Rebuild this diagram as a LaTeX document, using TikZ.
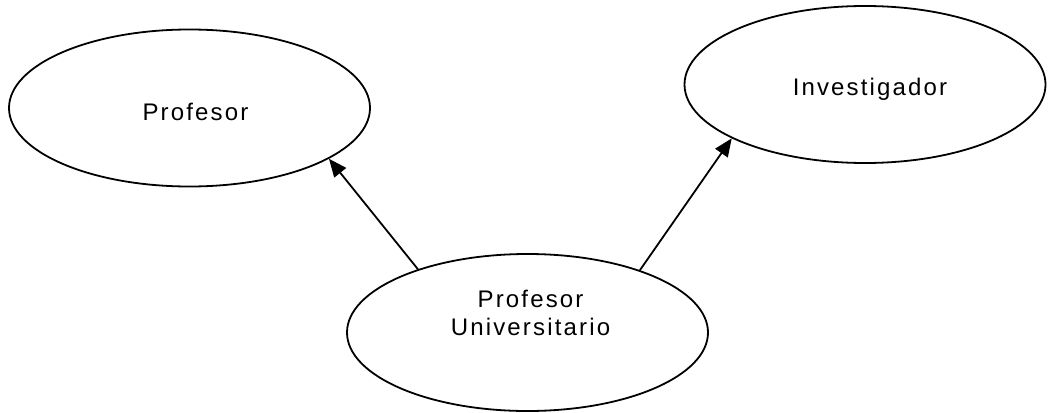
\documentclass[tikz,border=0pt]{standalone}
\usepackage{fontspec}
\setmainfont[LetterSpace=9]{Liberation Sans}
\usetikzlibrary{shapes.geometric,arrows.meta}
\begin{document}
\begin{tikzpicture}[x=1pt,y=-1pt,
  concept/.style={draw=black, line width=1.8pt, ellipse, inner sep=0pt,
    minimum width=361pt, minimum height=157pt},
  caption/.style={anchor=base, align=center, inner sep=0pt,
    font=\fontsize{24}{28}\selectfont},
  isa/.style={-{Triangle[length=18pt,width=15pt]}, line width=1.8pt}]
  \useasboundingbox (0,0) rectangle (1048,412);

  \node[concept, label={[caption, xshift=6pt, yshift=-4pt]center:Profesor}]
    (prof) at (189.5,108) {};
  \node[concept, label={[caption, xshift=5pt, yshift=-4.5pt]center:Investigador}]
    (inv) at (865,84.5) {};
  \node[concept, label={[caption, xshift=3pt, yshift=19.5pt]center:Profesor\\Universitario}]
    (univ) at (527.5,332.5) {};

  \draw[isa] (univ.150.5) -- (prof.-20.2);
  \draw[isa] (univ.29) -- (inv.-158.75);
\end{tikzpicture}
\end{document}
